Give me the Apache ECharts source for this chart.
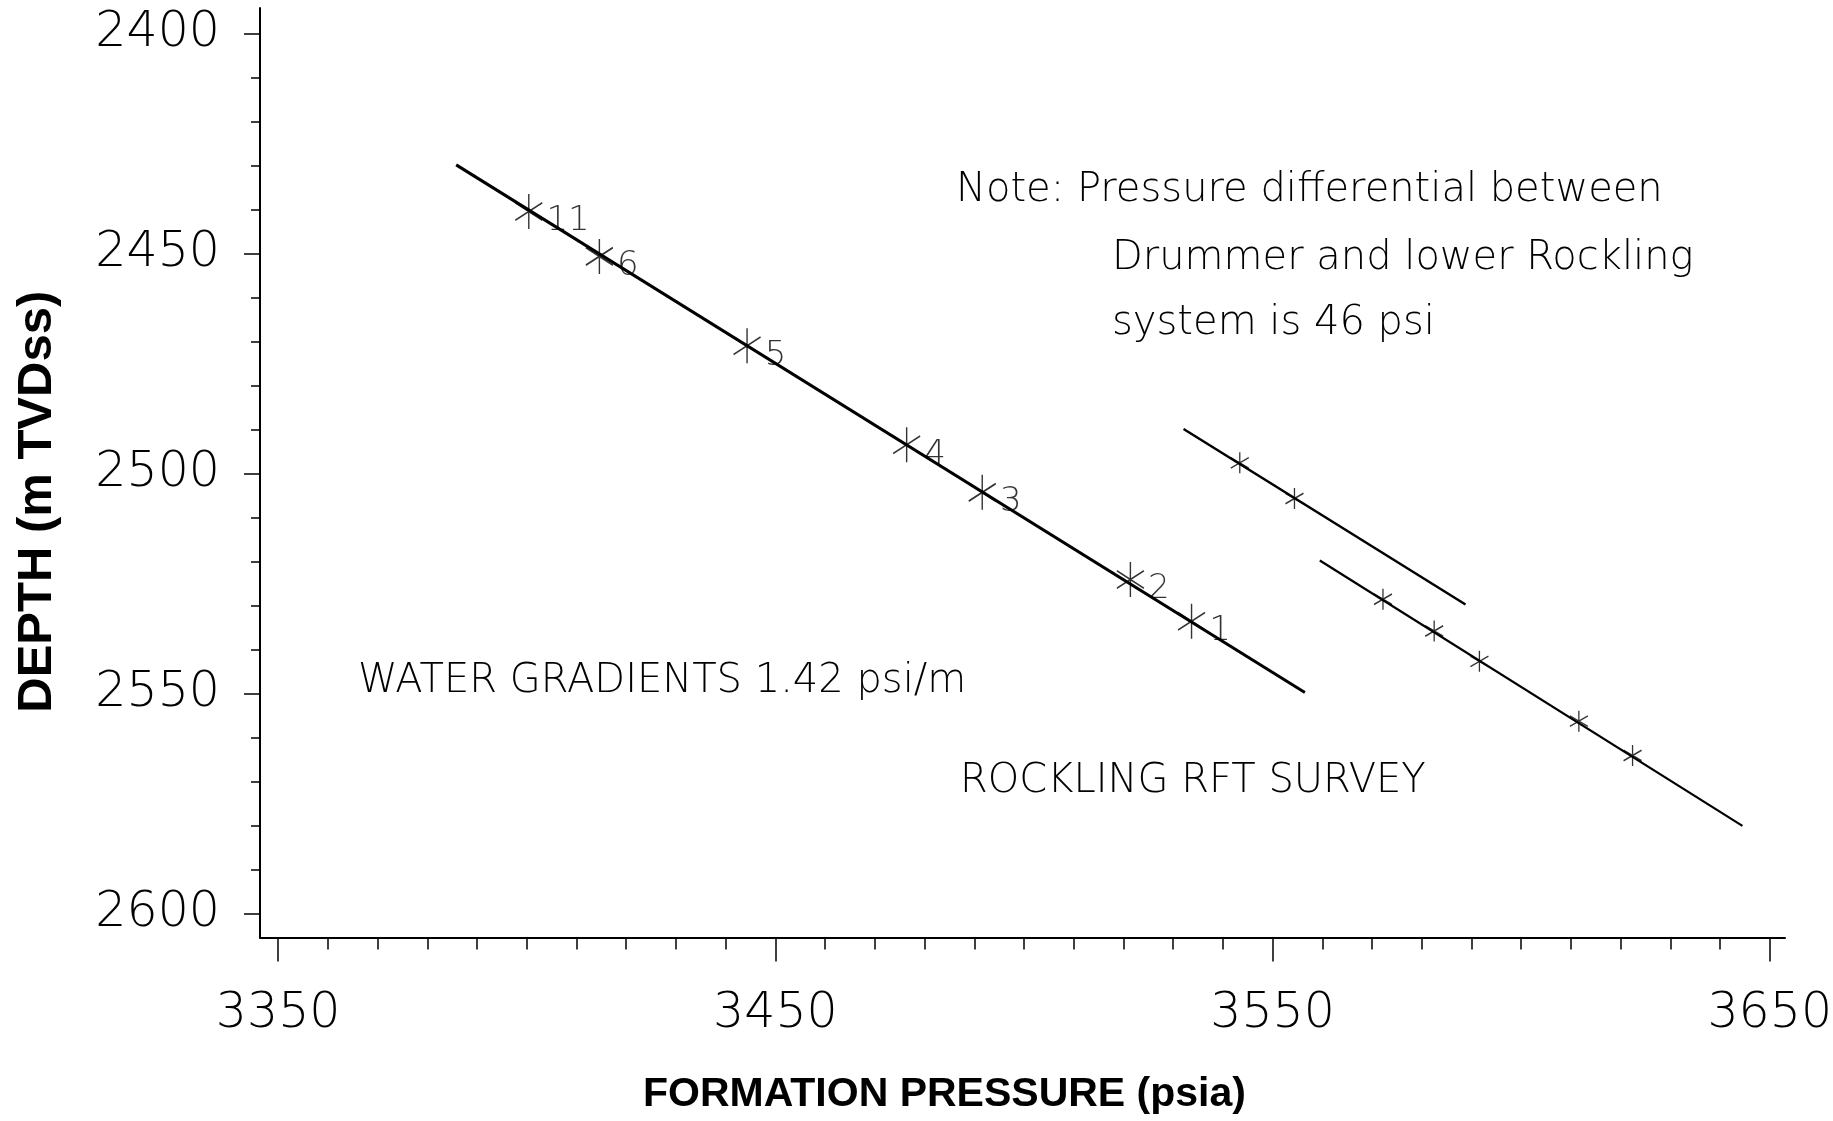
<!DOCTYPE html>
<html>
<head>
<meta charset="utf-8">
<script src="https://cdn.jsdelivr.net/npm/echarts@6/dist/echarts.min.js"></script>
<style>
html,body{margin:0;padding:0;background:#fff;}
#chart{width:1833px;height:1121px;}
</style>
</head>
<body>
<div id="chart"></div>
<script>
// ---- data ----
const xTickLabels = [3350, 3450, 3550, 3650];
const yTickLabels = [2400, 2450, 2500, 2550, 2600];

// Rockling RFT points (numbered)
const rocklingPressure = [3400.4, 3414.6, 3444.3, 3476.4, 3491.6, 3521.4, 3533.7];
const rocklingDepth    = [2440.5, 2450.7, 2471.0, 2493.5, 2504.3, 2524.1, 2533.6];
const rocklingLabels   = ['11', '6', '5', '4', '3', '2', '1'];
// Rockling water gradient line (ends)
const rocklingLineP = [3385.8, 3556.5];
const rocklingLineD = [2429.9, 2549.8];

// upper right (Drummer) points and gradient line
const drummerPressure = [3543.4, 3554.4];
const drummerDepth    = [2497.6, 2505.7];
const drummerLineP = [3532.1, 3588.8];
const drummerLineD = [2489.9, 2529.8];

// lower right (lower Rockling) points and gradient line
const lowerPressure = [3572.2, 3582.5, 3591.6, 3611.6, 3622.4];
const lowerDepth    = [2528.6, 2535.8, 2542.7, 2556.3, 2564.1];
const lowerLineP = [3559.5, 3644.5];
const lowerLineD = [2519.8, 2580.1];

const xTitle = 'FORMATION PRESSURE (psia)';
const yTitle = 'DEPTH (m TVDss)';
const noteLines = ['Note: Pressure differential between', 'Drummer and lower Rockling', 'system is 46 psi'];
const waterText = 'WATER GRADIENTS 1.42 psi/m';
const surveyText = 'ROCKLING RFT SURVEY';

// ---- helpers ----
const xMin = 3346.34, xMax = 3653.06;
const yMin = 2394.25, yMax = 2605.45;
const xMinor = []; for (let v = 3350; v <= 3650; v += 10) xMinor.push(v);
const yMinor = []; for (let v = 2400; v <= 2600; v += 10) yMinor.push(v);
const pairs = (a, b) => a.map((v, i) => [v, b[i]]);

const thinFont = '"DejaVu Sans", "Liberation Sans", sans-serif';
const boldFont = '"Liberation Sans", Arial, Helvetica, sans-serif';
const star = 'path://M10,0L10,20M1.34,5L18.66,15M1.34,15L18.66,5';

const chart = echarts.init(document.getElementById('chart'), null, {renderer: 'canvas'});

const commonAxis = {
  type: 'value',
  splitLine: {show: false},
  axisLine: {onZero: false},
};

const noteStyle = (text) => ({text: text, fontSize: 40, fontFamily: thinFont, fontWeight: 200,
  fill: '#000', align: 'left', verticalAlign: 'middle'});

chart.setOption({
  animation: false,
  backgroundColor: '#fff',
  grid: {left: 260, right: 48, top: 8, bottom: 183.5, containLabel: false, outerBoundsMode: 'none'},
  xAxis: [
    Object.assign({}, commonAxis, {
      min: xMin, max: xMax, position: 'bottom',
      axisLine: {show: true, onZero: false, lineStyle: {color: '#000', width: 2}},
      axisTick: {show: true, length: 24, customValues: xTickLabels, lineStyle: {color: '#000', width: 1.5}},
      axisLabel: {customValues: xTickLabels, formatter: v => String(v), margin: 52,
        fontSize: 49, fontFamily: thinFont, fontWeight: 200, color: '#000'},
      name: xTitle, nameLocation: 'middle', nameGap: 137,
      nameTextStyle: {fontSize: 41, fontFamily: boldFont, fontWeight: 'bold', color: '#000', padding: [0, 156, 0, 0]}
    }),
    Object.assign({}, commonAxis, {
      min: xMin, max: xMax, position: 'bottom', offset: 0,
      axisLine: {show: false, onZero: false},
      axisTick: {show: true, length: 12, customValues: xMinor, lineStyle: {color: '#000', width: 1.5}},
      axisLabel: {show: false}
    })
  ],
  yAxis: [
    Object.assign({}, commonAxis, {
      min: yMin, max: yMax, inverse: true, position: 'left',
      axisLine: {show: true, onZero: false, lineStyle: {color: '#000', width: 2}},
      axisTick: {show: true, length: 16, customValues: yTickLabels, lineStyle: {color: '#000', width: 1.5}},
      axisLabel: {customValues: yTickLabels, formatter: v => String(v), margin: 40,
        fontSize: 49, fontFamily: thinFont, fontWeight: 200, color: '#000'},
      name: yTitle, nameLocation: 'middle', nameGap: 198,
      nameTextStyle: {fontSize: 49, fontFamily: boldFont, fontWeight: 'bold', color: '#000', padding: [0, 58, 0, 0]}
    }),
    Object.assign({}, commonAxis, {
      min: yMin, max: yMax, inverse: true, position: 'left', offset: 0,
      axisLine: {show: false, onZero: false},
      axisTick: {show: true, length: 9, customValues: yMinor, lineStyle: {color: '#000', width: 1.5}},
      axisLabel: {show: false}
    })
  ],
  series: [
    {type: 'line', data: pairs(rocklingLineP, rocklingLineD), symbol: 'none', silent: true,
      lineStyle: {color: '#000', width: 3}},
    {type: 'line', data: pairs(drummerLineP, drummerLineD), symbol: 'none', silent: true,
      lineStyle: {color: '#000', width: 2.5}},
    {type: 'line', data: pairs(lowerLineP, lowerLineD), symbol: 'none', silent: true,
      lineStyle: {color: '#000', width: 2.2}},
    {type: 'scatter', symbol: star, symbolSize: [27, 35],
      data: rocklingPressure.map((p, i) => ({value: [p, rocklingDepth[i]], name: rocklingLabels[i]})),
      itemStyle: {color: 'none', borderColor: '#000', borderWidth: 1.6},
      label: {show: true, position: 'right', distance: 2, offset: [0, 10], formatter: '{b}',
        fontSize: 34, fontFamily: thinFont, fontWeight: 200, color: '#000'}},
    {type: 'scatter', symbol: star, symbolSize: [18, 21],
      data: pairs(drummerPressure, drummerDepth),
      itemStyle: {color: 'none', borderColor: '#000', borderWidth: 1.4}},
    {type: 'scatter', symbol: star, symbolSize: [18, 21],
      data: pairs(lowerPressure, lowerDepth),
      itemStyle: {color: 'none', borderColor: '#000', borderWidth: 1.4}}
  ],
  graphic: [
    {type: 'text', x: 956, y: 191, style: noteStyle(noteLines[0])},
    {type: 'text', x: 1112, y: 259, style: noteStyle(noteLines[1])},
    {type: 'text', x: 1112, y: 324, style: noteStyle(noteLines[2])},
    {type: 'text', x: 358, y: 682, style: noteStyle(waterText)},
    {type: 'text', x: 960, y: 782, style: noteStyle(surveyText)}
  ]
});
</script>
</body>
</html>
